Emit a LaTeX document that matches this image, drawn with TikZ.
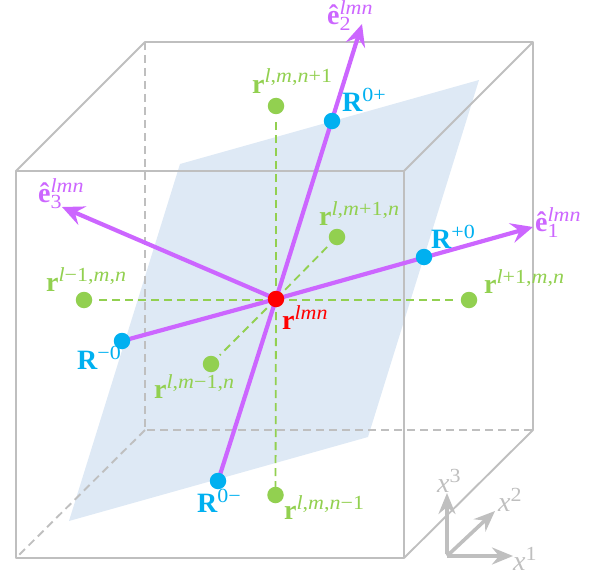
\documentclass[tikz,border=0pt]{standalone}
\usepackage{fontspec}
\setmainfont{Liberation Serif}
\newfontfamily\supfam[FakeStretch=1.1]{Liberation Serif}
\usetikzlibrary{arrows.meta}
\definecolor{cbox}{HTML}{BFBFBF}
\definecolor{cplane}{HTML}{DEE9F5}
\definecolor{cpur}{HTML}{CC66FF}
\definecolor{cblue}{HTML}{00B0F0}
\definecolor{cgreen}{HTML}{92D050}
\definecolor{cred}{HTML}{FF0000}
\tikzset{
  boxline/.style={draw=cbox,line width=1.9pt},
  boxdash/.style={draw=cbox,line width=1.9pt,dash pattern=on 8pt off 5pt},
  link/.style={draw=cgreen,line width=1.8pt,dash pattern=on 8pt off 5pt,shorten >=4pt},
  vec/.style={draw=cpur,line width=4.2pt},
  vectip/.style={vec,-{Stealth[length=22pt,width=20pt,inset=8pt]}},
  axisline/.style={draw=cbox,line width=3.6pt,-{Stealth[length=21pt,width=17pt,inset=7pt]}},
  dot/.style={circle,inner sep=0pt,minimum size=16.5pt,fill=#1},
  lab/.style={inner sep=0pt,text=#1},
}
\newcommand{\bigf}{\fontsize{28}{28}\selectfont}
\newcommand{\supf}{\fontsize{20}{20}\supfam\selectfont}
\newcommand{\lsup}[2]{{\bigf\bfseries #1}\raisebox{10pt}{\supf #2}}
\newcommand{\lsub}[3]{{\bigf\bfseries #1}\rlap{\raisebox{-6pt}{\supf #2}}\raisebox{10pt}{\supf\itshape #3}}
\newcommand{\lvar}[2]{{\bigf\itshape #1}\raisebox{10pt}{\supf #2}}
\newcommand{\iv}[1]{\textit{#1}}
\begin{document}
\begin{tikzpicture}[x=1pt,y=-1pt]
\useasboundingbox (0,0) rectangle (611,578);
% plane
\fill[cplane] (180,164) -- (479,80) -- (368,437) -- (69,521) -- cycle;
% box corners
\coordinate (f1) at (16,171); \coordinate (f2) at (404,171);
\coordinate (f3) at (404,558); \coordinate (f4) at (16,558);
\coordinate (b1) at (145,42); \coordinate (b2) at (533,42);
\coordinate (b3) at (533,430); \coordinate (b4) at (145,430);
\draw[boxdash] (b1) -- (b4) -- (b3);
\draw[boxdash] (b4) -- (f4);
\draw[boxline,line join=round] (f1) -- (f2) -- (f3) -- (f4) -- cycle;
\draw[boxline,line join=round] (f1) -- (b1) -- (b2) -- (b3) -- (f3);
\draw[boxline] (f2) -- (b2);
% nodes
\coordinate (c) at (276,299);
\coordinate (ch) at (276,300);
\node[dot=cgreen] (gt) at (276,106) {};
\node[dot=cgreen] (gr) at (469,300) {};
\node[dot=cgreen] (gl) at (84,300) {};
\node[dot=cgreen] (gb) at (275.5,495) {};
\node[dot=cgreen] (gf) at (337,237) {};
\node[dot=cgreen] (gn) at (211,364) {};
\draw[link] (c) -- (gt);
\draw[link] (ch) -- (gr);
\draw[link] (ch) -- (gl);
\draw[link] (c) -- (gb.center);
\draw[link] (c) -- (gf);
\draw[link] (c) -- (gn);
\coordinate (t1) at (533,227); \coordinate (t2) at (362,24); \coordinate (t3) at (62,207);
\coordinate (e1) at (424,257); \coordinate (e2) at (332,121);
\coordinate (e3) at (122,341); \coordinate (e4) at (218,481);
\draw[vectip] (c) -- (t1);
\draw[vectip] (c) -- (t2);
\draw[vectip] (c) -- (t3);
\draw[vec] (c) -- (e3);
\draw[vec] (c) -- (e4);
\node[dot=cblue] (rp0) at (e1) {};
\node[dot=cblue] (r0p) at (e2) {};
\node[dot=cblue] (rm0) at (e3) {};
\node[dot=cblue] (r0m) at (e4) {};
\node[dot=cred] (center) at (c) {};
% axes
\coordinate (o) at (447,556);
\coordinate (x1) at (513,556); \coordinate (x2) at (495,511); \coordinate (x3) at (447,493);
\draw[axisline] (o) -- (x1);
\draw[axisline] (o) -- (x2);
\draw[axisline] ([yshift=1.8pt]o) -- (x3);
% labels
\node[lab=cpur,anchor=base west] (l1) at (535,231) {\lsub{ê}{1}{lmn}};
\node[lab=cpur,anchor=base west] (l2) at (327,25) {\lsub{ê}{2}{lmn}};
\node[lab=cpur,anchor=base west] (l3) at (38,202) {\lsub{ê}{3}{lmn}};
\node[lab=cblue,anchor=base west] (lp0) at (431,248) {\lsup{R}{+0}};
\node[lab=cblue,anchor=base west] (l0p) at (342,112) {\lsup{R}{0+}};
\node[lab=cblue,anchor=base west] (lm0) at (77,369) {\lsup{R}{−0}};
\node[lab=cblue,anchor=base west] (l0m) at (197,512) {\lsup{R}{0−}};
\node[lab=cgreen,anchor=base west] (lt) at (252,93) {\lsup{r}{\iv{l},\iv{m},\iv{n}+1}};
\node[lab=cgreen,anchor=base west] (lr) at (484,293) {\lsup{r}{\iv{l}+1,\iv{m},\iv{n}}};
\node[lab=cgreen,anchor=base west] (ll) at (46,291) {\lsup{r}{\iv{l}−1,\iv{m},\iv{n}}};
\node[lab=cgreen,anchor=base west] (lb) at (284,519) {\lsup{r}{\iv{l},\iv{m},\iv{n}−1}};
\node[lab=cgreen,anchor=base west] (lf) at (319,225) {\lsup{r}{\iv{l},\iv{m}+1,\iv{n}}};
\node[lab=cgreen,anchor=base west] (ln) at (154,398) {\lsup{r}{\iv{l},\iv{m}−1,\iv{n}}};
\node[lab=cred,anchor=base west] (lc) at (282,329) {\lsup{r}{\iv{lmn}}};
\node[lab=cbox,anchor=base west] (n1) at (513,570) {\lvar{x}{1}};
\node[lab=cbox,anchor=base west] (n2) at (498,511) {\lvar{x}{2}};
\node[lab=cbox,anchor=base west] (n3) at (437,492) {\lvar{x}{3}};
\end{tikzpicture}
\end{document}
